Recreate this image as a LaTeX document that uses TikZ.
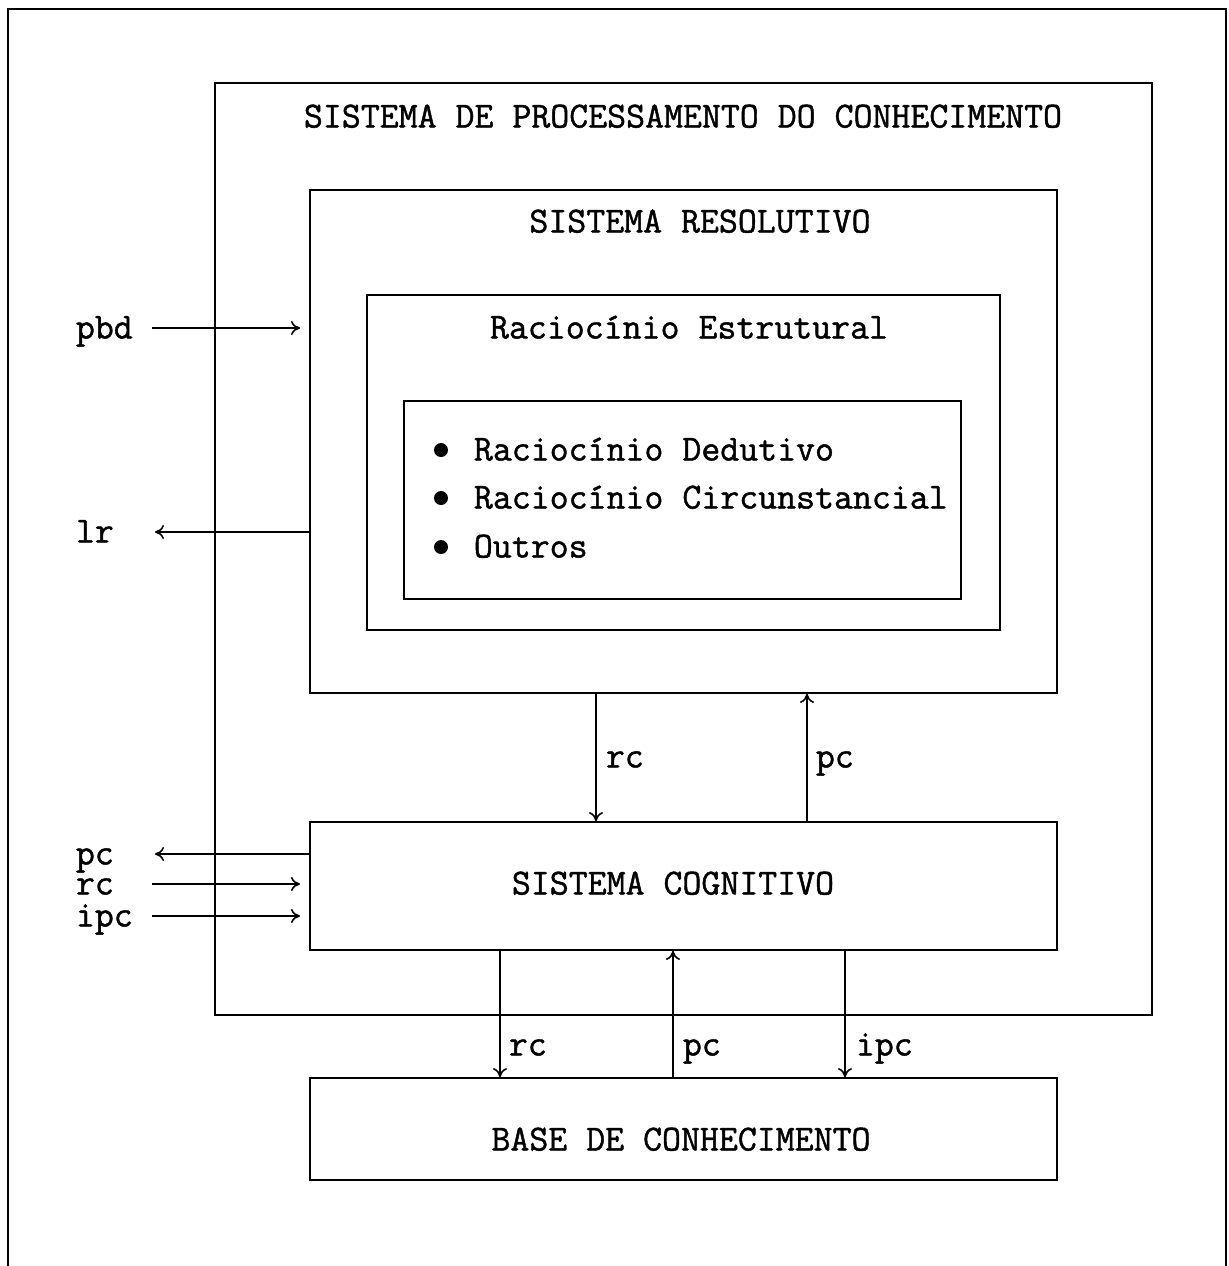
\documentclass[tikz,border=0pt]{standalone}
\usepackage{fontspec}
\newfontfamily\diagfont{Latin Modern Mono}[FakeBold=1.2]
\usetikzlibrary{arrows.meta}
\begin{document}
\begin{tikzpicture}[x=0.5pt,y=-0.5pt,
  line width=0.9pt,
  every node/.style={font=\diagfont\fontsize{18.4}{22}\selectfont, inner sep=0pt,
    text height=10.5pt, text depth=0pt},
  box/.style={draw, line width=0.9pt, rectangle},
  lbl/.style={anchor=west},
  arr/.style={-{To[length=4.5pt,width=7pt]}, line width=0.8pt},
  dot/.style={circle, fill, minimum size=7pt, text height=0pt, text depth=0pt, text width=0pt}
]
\useasboundingbox (0,0) rectangle (1229,1266);

% page frame, open at the bottom
\draw (8,1266) -- (8,9) -- (1226,9) -- (1226,1266);

% nested blocks
\node[box, minimum width=468.5pt, minimum height=466pt] (proc) at (683.5,549) {};
\node (proctitle) at (683,117) {SISTEMA DE PROCESSAMENTO DO CONHECIMENTO};

\node[box, minimum width=373.5pt, minimum height=251.5pt] (resol) at (683.5,441.5) {};
\node (resoltitle) at (700,222) {SISTEMA RESOLUTIVO};

\node[box, minimum width=316.5pt, minimum height=167.5pt] (estrut) at (683.5,462.5) {};
\node (estruttitle) at (689,328) {Raciocínio Estrutural};

\node[box, minimum width=278.5pt, minimum height=99pt] (lista) at (682.5,500) {};
\node[dot] (d1) at (441,450) {};
\node[dot] (d2) at (441,498) {};
\node[dot] (d3) at (441,547) {};
\node[lbl] (i1) at (473,450) {Raciocínio Dedutivo};
\node[lbl] (i2) at (473,498) {Raciocínio Circunstancial};
\node[lbl] (i3) at (473,547) {Outros};

\node[box, minimum width=373.5pt, minimum height=64pt] (cog) at (683.5,886) {};
\node (cogtitle) at (673,884) {SISTEMA COGNITIVO};

\node[box, minimum width=373.5pt, minimum height=51pt] (base) at (683.5,1129) {};
\node (basetitle) at (681,1140) {BASE DE CONHECIMENTO};

% connector columns
\coordinate (xa) at (596,0);
\coordinate (xb) at (807,0);
\coordinate (xc) at (500,0);
\coordinate (xd) at (673,0);
\coordinate (xe) at (845,0);

% between resolutive and cognitive systems
\draw[arr] (resol.south -| xa) -- (cog.north -| xa);
\draw[arr] (cog.north -| xb) -- (resol.south -| xb);
\node[lbl] (lrc1) at (605,757) {rc};
\node[lbl] (lpc1) at (815,757) {pc};

% between cognitive system and knowledge base
\draw[arr] (cog.south -| xc) -- (base.north -| xc);
\draw[arr] (base.north -| xd) -- (cog.south -| xd);
\draw[arr] (cog.south -| xe) -- (base.north -| xe);
\node[lbl] (lrc2) at (508,1045) {rc};
\node[lbl] (lpc2) at (682,1045) {pc};
\node[lbl] (lipc2) at (855,1045) {ipc};

% external inputs and outputs
\node[lbl] (pbd) at (75,328) {pbd};
\node[lbl] (lr) at (75,532) {lr};
\node[lbl] (pc) at (75,854) {pc};
\node[lbl] (rc) at (75,884) {rc};
\node[lbl] (ipc) at (75,916) {ipc};

\coordinate (inx) at (152,0);
\coordinate (outx) at (155,0);
\coordinate (tipx) at (300,0);

\draw[arr] (pbd -| inx) -- (pbd -| tipx);
\draw[arr] (resol.west |- lr) -- (lr -| outx);
\draw[arr] (cog.west |- pc) -- (pc -| outx);
\draw[arr] (rc -| inx) -- (rc -| tipx);
\draw[arr] (ipc -| inx) -- (ipc -| tipx);
\end{tikzpicture}
\end{document}
